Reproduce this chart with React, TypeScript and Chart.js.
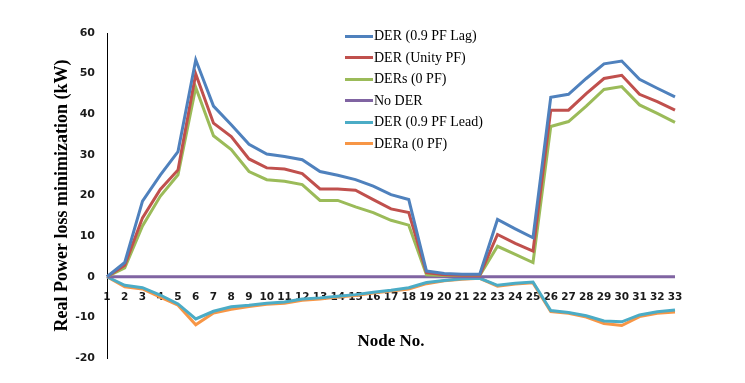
import React, { useEffect, useRef } from "react";
import { Chart, registerables } from "chart.js";

Chart.register(...registerables);

const nodes = ["1","2","3","4","5","6","7","8","9","10","11","12","13","14","15","16","17","18","19","20","21","22","23","24","25","26","27","28","29","30","31","32","33"];

const derLag = [0, 3.5, 18.6, 25.0, 30.8, 53.4, 42.0, 37.4, 32.6, 30.2, 29.6, 28.8, 25.9, 25.0, 23.9, 22.3, 20.2, 19.0, 1.4, 0.8, 0.6, 0.6, 14.1, 11.8, 9.6, 44.2, 44.9, 48.8, 52.4, 53.1, 48.6, 46.4, 44.3];
const derUnity = [0, 2.8, 14.5, 21.5, 26.3, 49.9, 37.8, 34.5, 29.0, 26.8, 26.5, 25.4, 21.6, 21.6, 21.3, 19.0, 16.7, 15.8, 1.0, 0.5, 0.4, 0.4, 10.4, 8.2, 6.3, 41.0, 41.0, 45.1, 48.8, 49.6, 44.9, 43.1, 41.0];
const derS = [0, 2.2, 12.5, 19.8, 25.1, 46.6, 34.7, 31.3, 25.9, 23.9, 23.5, 22.7, 18.8, 18.8, 17.2, 15.8, 13.9, 12.7, 0.5, 0.3, 0.3, 0.3, 7.5, 5.5, 3.5, 37.0, 38.2, 42.0, 46.1, 46.8, 42.3, 40.2, 38.0];
const noDer = [0, 0, 0, 0, 0, 0, 0, 0, 0, 0, 0, 0, 0, 0, 0, 0, 0, 0, 0, 0, 0, 0, 0, 0, 0, 0, 0, 0, 0, 0, 0, 0, 0];
const derLead = [0, -2.1, -2.7, -4.5, -6.7, -10.4, -8.5, -7.4, -7.0, -6.5, -6.2, -5.5, -5.2, -4.8, -4.4, -3.8, -3.3, -2.7, -1.4, -0.9, -0.5, -0.4, -2.1, -1.6, -1.3, -8.3, -8.8, -9.6, -10.9, -11.1, -9.4, -8.6, -8.2];
const derA = [0, -2.5, -3.0, -5.0, -7.0, -11.8, -8.9, -8.0, -7.3, -6.8, -6.5, -5.8, -5.5, -5.0, -4.6, -4.0, -3.5, -3.0, -1.7, -1.0, -0.6, -0.4, -2.3, -1.8, -1.5, -8.6, -9.0, -9.9, -11.5, -12.0, -9.8, -9.0, -8.7];

const seriesNames = ["DER (0.9 PF Lag)", "DER (Unity PF)", "DERs (0 PF)", "No DER", "DER (0.9 PF Lead)", "DERa (0 PF)"];
const seriesColors = ["#4F81BD", "#C0504D", "#9BBB59", "#8064A2", "#4BACC6", "#F79646"];
const seriesData = [derLag, derUnity, derS, noDer, derLead, derA];

const yTitle = "Real Power loss minimization (kW)";
const xTitle = "Node No.";

export default function App() {
  const ref = useRef<HTMLCanvasElement | null>(null);
  useEffect(() => {
    if (!ref.current) return;
    const chart = new Chart(ref.current, {
      type: "line",
      data: {
        labels: nodes,
        datasets: seriesData.map((d, i) => ({
          label: seriesNames[i],
          data: d,
          borderColor: seriesColors[i],
          backgroundColor: seriesColors[i],
          borderWidth: 3,
          pointRadius: 0,
          tension: 0,
          fill: false,
        })),
      },
      options: {
        animation: false,
        responsive: false,
        layout: { padding: { left: 50, top: 33, right: 70, bottom: 25 } },
        plugins: { legend: { display: false }, tooltip: { enabled: false } },
        scales: {
          x: {
            type: "category",
            position: { y: 0 } as any,
            offset: false,
            grid: { display: false, drawTicks: false },
            border: { display: false },
            ticks: {
              autoSkip: false,
              maxRotation: 0,
              minRotation: 0,
              padding: 14,
              color: "#1a1a1a",
              font: { family: "'DejaVu Sans'", size: 10.5, weight: "bold" },
            },
            title: {
              display: true,
              text: xTitle,
              color: "#000",
              padding: { top: 14, bottom: 0 },
              font: { family: "'Liberation Serif'", size: 17, weight: "bold" },
            },
          },
          y: {
            min: -20,
            max: 60,
            grid: { display: false, drawTicks: false },
            border: { display: true, color: "#000", width: 1 },
            ticks: {
              stepSize: 10,
              padding: 12,
              color: "#1a1a1a",
              font: { family: "'DejaVu Sans'", size: 11, weight: "bold" },
            },
            title: {
              display: true,
              text: yTitle,
              color: "#000",
              padding: { top: 2, bottom: 0 },
              font: { family: "'Liberation Serif'", size: 18, weight: "bold" },
            },
            afterFit: (scale: any) => {
              scale.width = 57;
            },
          },
        },
      },
    });
    return () => chart.destroy();
  }, []);

  return (
    <div style={{ position: "absolute", left: 0, top: 0, width: 745, height: 383, background: "#fff" }}>
      <canvas ref={ref} width={745} height={383} style={{ display: "block" }} />
      {seriesNames.map((name, i) => (
        <div
          key={name}
          style={{
            position: "absolute",
            left: 345,
            top: 36 + i * 21.5 - 9,
            height: 18,
            display: "flex",
            alignItems: "center",
            fontFamily: "'Liberation Serif'",
            fontSize: 14,
            color: "#000",
            whiteSpace: "nowrap",
          }}
        >
          <span style={{ display: "inline-block", width: 28, height: 3, background: seriesColors[i], marginRight: 1 }} />
          <span>{name}</span>
        </div>
      ))}
    </div>
  );
}
